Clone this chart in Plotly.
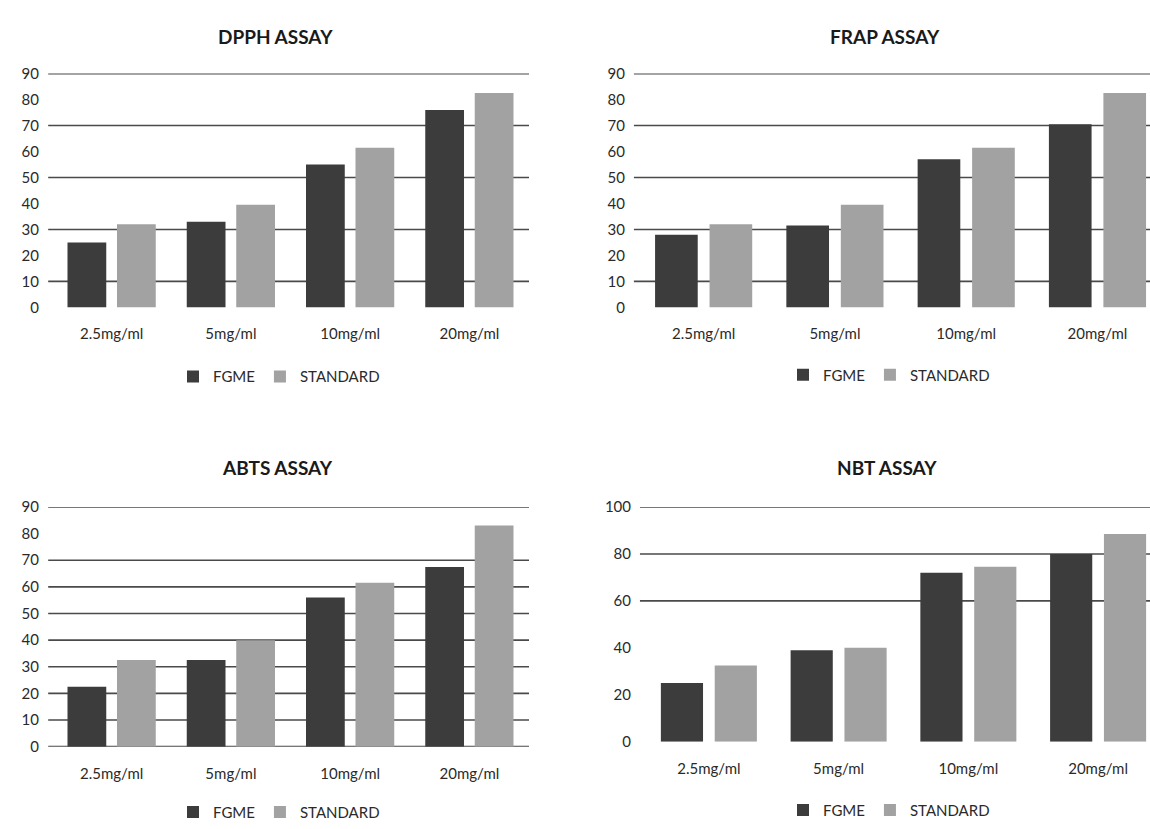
import plotly.graph_objects as go

# ---------------- data ----------------
CATEGORIES = ["2.5mg/ml", "5mg/ml", "10mg/ml", "20mg/ml"]
SERIES = ["FGME", "STANDARD"]

DPPH_FGME = [25, 33, 55, 76]
DPPH_STANDARD = [32, 39.5, 61.5, 82.5]
FRAP_FGME = [28, 31.5, 57, 70.5]
FRAP_STANDARD = [32, 39.5, 61.5, 82.5]
ABTS_FGME = [22.5, 32.5, 56, 67.5]
ABTS_STANDARD = [32.5, 40, 61.5, 83]
NBT_FGME = [25, 39, 72, 80]
NBT_STANDARD = [32.5, 40, 74.5, 88.5]

TITLES = ["DPPH ASSAY", "FRAP ASSAY", "ABTS ASSAY", "NBT ASSAY"]

Y_TICKS_90 = [0, 10, 20, 30, 40, 50, 60, 70, 80, 90]
Y_TICKS_100 = [0, 20, 40, 60, 80, 100]

# gridlines that are visible in the reference
DPPH_GRID = [10, 30, 50, 70, 90]
FRAP_GRID = [10, 30, 50, 70, 90]
ABTS_GRID = [0, 10, 20, 30, 40, 50, 60, 70, 90]
NBT_GRID = [60, 80, 100]

# ---------------- style ----------------
W, H = 1150, 829
FG_COLOR = "#3c3c3c"
ST_COLOR = "#a2a2a2"
GRID_COLOR = "#4a4a4a"
TEXT_COLOR = "#2a2a2a"
FONT = "Lato, 'Open Sans', sans-serif"

panels = [
    dict(fg=DPPH_FGME, st=DPPH_STANDARD, ticks=Y_TICKS_90, yr=[0, 90], grid=DPPH_GRID,
         xpx=(52, 529), ypx=(65, 304), xr=[-0.5, 3.5], tpos=(275, 27), lpos=(279, 375)),
    dict(fg=FRAP_FGME, st=FRAP_STANDARD, ticks=Y_TICKS_90, yr=[0, 90], grid=FRAP_GRID,
         xpx=(638, 1150), ypx=(65, 304), xr=[-0.5, 3.4], tpos=(885, 27), lpos=(889, 373)),
    dict(fg=ABTS_FGME, st=ABTS_STANDARD, ticks=Y_TICKS_90, yr=[0, 90], grid=ABTS_GRID,
         xpx=(52, 529), ypx=(508, 753), xr=[-0.5, 3.5], tpos=(277, 468), lpos=(279, 820)),
    dict(fg=NBT_FGME, st=NBT_STANDARD, ticks=Y_TICKS_100, yr=[0, 100], grid=NBT_GRID,
         xpx=(644, 1150), ypx=(508, 748), xr=[-0.5, 3.4], tpos=(887, 468), lpos=(889, 818)),
]

BAR_W = 0.325
FG_OFF = -0.37
ST_OFF = 0.045

fig = go.Figure()
layout = dict(
    width=W, height=H,
    margin=dict(l=0, r=0, t=0, b=0),
    paper_bgcolor="white", plot_bgcolor="white",
    barmode="overlay",
    font=dict(family=FONT, color=TEXT_COLOR, size=15),
    showlegend=True,
)
shapes = []
annotations = []

for i, p in enumerate(panels, start=1):
    sfx = "" if i == 1 else str(i)
    xa, ya = "x" + sfx, "y" + sfx
    leg = "legend" + sfx
    fig.add_trace(go.Bar(
        x=CATEGORIES, y=p["fg"], name=SERIES[0], xaxis=xa, yaxis=ya,
        marker=dict(color=FG_COLOR, line=dict(width=0)),
        width=BAR_W, offset=FG_OFF, legend=leg, hoverinfo="x+y+name",
    ))
    fig.add_trace(go.Bar(
        x=CATEGORIES, y=p["st"], name=SERIES[1], xaxis=xa, yaxis=ya,
        marker=dict(color=ST_COLOR, line=dict(width=0)),
        width=BAR_W, offset=ST_OFF, legend=leg, hoverinfo="x+y+name",
    ))
    x0, x1 = p["xpx"]
    y0, y1 = p["ypx"]
    layout["xaxis" + sfx] = dict(
        domain=[x0 / W, x1 / W], anchor=ya, range=p["xr"],
        type="category", showgrid=False, zeroline=False, showline=False,
        ticks="outside", ticklen=13, tickcolor="rgba(0,0,0,0)",
        tickfont=dict(size=15, color=TEXT_COLOR, family=FONT),
        fixedrange=True,
    )
    layout["yaxis" + sfx] = dict(
        domain=[1 - y1 / H, 1 - y0 / H], anchor=xa, range=p["yr"],
        tickvals=p["ticks"], showgrid=False, zeroline=False, showline=False,
        ticks="outside", ticklen=9, tickcolor="rgba(0,0,0,0)",
        tickfont=dict(size=15, color=TEXT_COLOR, family=FONT),
        fixedrange=True,
    )
    for g in p["grid"]:
        shapes.append(dict(
            type="line", xref=xa + " domain", yref=ya,
            x0=-0.008, x1=1.0, y0=g, y1=g, layer="below",
            line=dict(color=GRID_COLOR, width=1.6),
        ))
    tx, ty = p["tpos"]
    annotations.append(dict(
        text="<b>" + TITLES[i - 1] + "</b>", xref="paper", yref="paper",
        x=tx / W, y=1 - ty / H, xanchor="center", yanchor="middle",
        showarrow=False, font=dict(size=19, color="#1a1a1a", family=FONT),
    ))
    lx, ly = p["lpos"]
    layout[leg] = dict(
        orientation="h", x=lx / W, y=1 - ly / H, xanchor="center", yanchor="middle",
        font=dict(size=15, color=TEXT_COLOR, family=FONT),
        itemwidth=30, bgcolor="rgba(0,0,0,0)", traceorder="normal",
    )

layout["shapes"] = shapes
layout["annotations"] = annotations
fig.update_layout(**layout)
fig.write_html(
    "out.html",
    config={"displayModeBar": False},
    post_script="document.body.style.margin='0';document.body.style.overflow='hidden';",
)
